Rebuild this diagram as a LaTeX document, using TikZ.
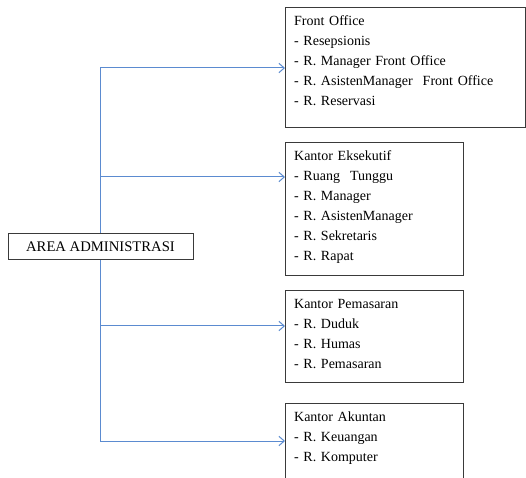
\documentclass[tikz,border=0pt]{standalone}
\usepackage{fontspec}
\setmainfont{Liberation Serif}
\usetikzlibrary{arrows.meta}
\definecolor{garis}{HTML}{5B8BD0}
\definecolor{tepi}{HTML}{3A3A3A}
\newcommand\hurufruang{\fontsize{10.5}{15}\selectfont\spaceskip=4pt\relax}
\newcommand\jarak{\hspace{7.5pt}}

\begin{document}
\begin{tikzpicture}[x=0.75pt,y=-0.75pt,
	ruang/.style={draw=tepi, line width=0.75pt, anchor=north west,
		align=left, font=\hurufruang,
		inner xsep=6.5pt, inner ysep=5.5pt, text height=8pt},
	utama/.style={draw=tepi, line width=0.75pt,
		font=\fontsize{11}{13}\selectfont,
		minimum width=138.75pt, minimum height=20pt, inner sep=0pt},
	panah/.style={draw=garis, line width=0.75pt,
		-{Straight Barb[length=4pt,width=7pt]}}]
	
	\useasboundingbox (0,0) rectangle (526,478);
	\clip (0,0) rectangle (526,478);
	
	% Area administrasi
	\node[utama] (admin) at (100.5,246.5) {AREA ADMINISTRASI};
	
	% Ruang-ruang
	\node[ruang, text width=167pt, text depth=71pt] (fo) at (285,7)
	{Front Office\\
		- Resepsionis\\
		- R. Manager Front Office\\
		- R. AsistenManager\jarak Front Office\\
		- R. Reservasi};
	
	\node[ruang, text width=120.5pt, text depth=80.75pt] (ke) at (285,142)
	{Kantor Eksekutif\\
		- Ruang\jarak Tunggu\\
		- R. Manager\\
		- R. AsistenManager\\
		- R. Sekretaris\\
		- R. Rapat};
	
	\node[ruang, text width=120.5pt, text depth=50pt] (kp) at (285,290)
	{Kantor Pemasaran\\
		- R. Duduk\\
		- R. Humas\\
		- R. Pemasaran};
	
	\node[ruang, text width=120.5pt, text depth=60pt] (ka) at (285,403)
	{Kantor Akuntan\\
		- R. Keuangan\\
		- R. Komputer};
	
	% Titik masuk panah
	\coordinate (fo-in) at (fo.west |- 0,68);
	\coordinate (ke-in) at (ke.west |- 0,177);
	\coordinate (kp-in) at (kp.west |- 0,326);
	\coordinate (ka-in) at (ka.west |- 0,441);
	
	% Panah
	\draw[panah] (admin.north) |- (fo-in);
	\draw[panah] (admin.north) |- (ke-in);
	\draw[panah] (admin.south) |- (kp-in);
	\draw[panah] (admin.south) |- (ka-in);
	
\end{tikzpicture}
\end{document}
